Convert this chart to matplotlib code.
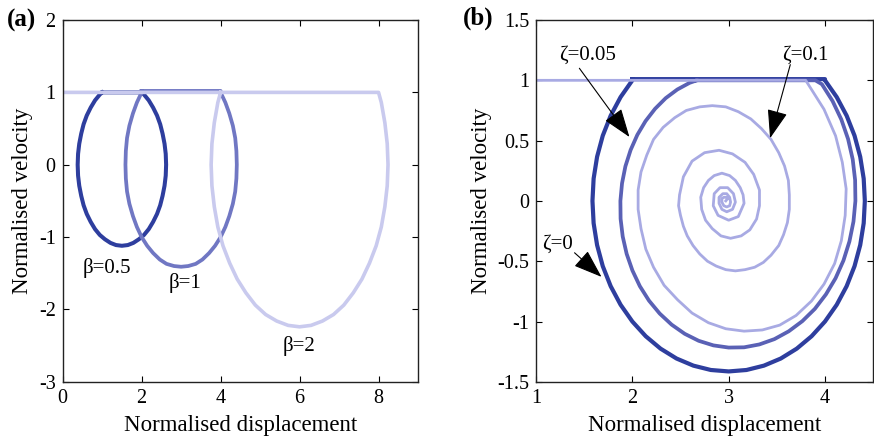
import matplotlib
matplotlib.use('Agg')
import matplotlib.pyplot as plt

plt.rcParams['font.family'] = ['Liberation Serif', 'DejaVu Serif']
plt.rcParams['axes.unicode_minus'] = False

# (a) phase portraits for different beta
beta05_x = [1.0, 2.0, 2.06, 2.18, 2.29, 2.39, 2.47, 2.53, 2.58, 2.61, 2.62, 2.61, 2.58, 2.53,
            2.47, 2.39, 2.29, 2.18, 2.06, 1.93, 1.79, 1.65, 1.5, 1.35, 1.21, 1.07, 0.94, 0.82,
            0.71, 0.61, 0.53, 0.47, 0.42, 0.39, 0.38, 0.39, 0.42, 0.47, 0.53, 0.61, 0.71, 0.82,
            0.94, 1.0]
beta05_v = [1.0, 1.0, 0.97, 0.89, 0.79, 0.68, 0.56, 0.43, 0.29, 0.15, 0.0, -0.15, -0.29, -0.43,
            -0.56, -0.68, -0.79, -0.89, -0.97, -1.03, -1.08, -1.11, -1.12, -1.11, -1.08, -1.03, -0.97, -0.89,
            -0.79, -0.68, -0.56, -0.43, -0.29, -0.15, 0.0, 0.15, 0.29, 0.43, 0.56, 0.68, 0.79, 0.89,
            0.97, 1.0]

beta1_x = [2.0, 4.0, 4.0, 4.12, 4.22, 4.31, 4.37, 4.40, 4.41, 4.40, 4.37, 4.31, 4.22, 4.12,
           4.0, 3.86, 3.71, 3.54, 3.37, 3.18, 3.0, 2.82, 2.63, 2.46, 2.29, 2.14, 2.0, 1.88,
           1.78, 1.69, 1.63, 1.60, 1.59, 1.60, 1.63, 1.69, 1.78, 1.88, 2.0, 2.0]
beta1_v = [1.02, 1.02, 1.0, 0.86, 0.71, 0.54, 0.37, 0.19, 0.0, -0.19, -0.37, -0.54, -0.71, -0.86,
           -1.0, -1.12, -1.22, -1.31, -1.37, -1.40, -1.41, -1.40, -1.37, -1.31, -1.22, -1.12, -1.0, -0.86,
           -0.71, -0.54, -0.37, -0.19, 0.0, 0.19, 0.37, 0.54, 0.71, 0.86, 1.0, 1.02]

beta2_x = [0.0, 8.0, 8.07, 8.16, 8.22, 8.24, 8.22, 8.16, 8.07, 7.94, 7.77, 7.58, 7.36, 7.12,
           6.86, 6.58, 6.29, 6.0, 5.71, 5.42, 5.14, 4.88, 4.64, 4.42, 4.23, 4.06, 3.93, 3.84,
           3.78, 3.76, 3.78, 3.84, 3.93, 4.0]
beta2_v = [1.0, 1.0, 0.86, 0.58, 0.29, 0.0, -0.29, -0.58, -0.86, -1.12, -1.36, -1.58, -1.77, -1.94,
           -2.07, -2.16, -2.22, -2.24, -2.22, -2.16, -2.07, -1.94, -1.77, -1.58, -1.36, -1.12, -0.86, -0.58,
           -0.29, 0.0, 0.29, 0.58, 0.86, 1.0]

beta_labels = ['β=0.5', 'β=1', 'β=2']
beta_label_pos = [(1.12, -1.43), (3.1, -1.63), (5.98, -2.51)]

# (b) phase portraits for different damping ratio zeta
zeta0_x = [2.0, 4.0, 4.000, 4.122, 4.225, 4.307, 4.366, 4.402, 4.414, 4.402, 4.366, 4.307, 4.225,
           4.122, 4.000, 3.861, 3.707, 3.541, 3.366, 3.185, 3.000, 2.815, 2.634, 2.459, 2.293,
           2.139, 2.000, 1.878, 1.775, 1.693, 1.634, 1.598, 1.586, 1.598, 1.634, 1.693, 1.775,
           1.878, 2.000, 2.0]
zeta0_v = [1.01, 1.01, 1.000, 0.861, 0.707, 0.541, 0.366, 0.185, 0.0, -0.185, -0.366, -0.541, -0.707,
           -0.861, -1.000, -1.122, -1.225, -1.307, -1.366, -1.402, -1.414, -1.402, -1.366, -1.307, -1.225,
           -1.122, -1.000, -0.861, -0.707, -0.541, -0.366, -0.185, 0.0, 0.185, 0.366, 0.541, 0.707,
           0.861, 1.000, 1.01]

zeta005_x = [2.67, 3.90, 3.968, 4.079, 4.170, 4.240, 4.288, 4.313, 4.316, 4.296, 4.254, 4.192,
             4.110, 4.010, 3.895, 3.765, 3.624, 3.475, 3.319, 3.160, 3.000, 2.842, 2.689, 2.544,
             2.408, 2.284, 2.173, 2.078, 2.001, 1.941, 1.900, 1.878, 1.876, 1.893, 1.928, 1.982,
             2.052, 2.137, 2.236, 2.346, 2.467, 2.594, 2.67]
zeta005_v = [1.0, 1.0, 0.968, 0.828, 0.675, 0.513, 0.345, 0.173, 0.0, -0.171, -0.336, -0.494,
             -0.641, -0.775, -0.895, -0.997, -1.081, -1.146, -1.190, -1.214, -1.216, -1.198, -1.160, -1.102,
             -1.026, -0.934, -0.827, -0.707, -0.577, -0.439, -0.295, -0.148, 0.0, 0.146, 0.287, 0.422,
             0.548, 0.662, 0.764, 0.852, 0.924, 0.979, 1.0]

zeta01_x = [1.00, 3.80, 3.99, 4.11, 4.18, 4.22, 4.21, 4.17, 4.10, 3.99, 3.86, 3.70, 3.53, 3.35,
            3.16, 2.97, 2.79, 2.62, 2.47, 2.33, 2.22, 2.14, 2.09, 2.06, 2.06, 2.09, 2.15, 2.22,
            2.32, 2.44, 2.56, 2.70, 2.83, 2.97, 3.10, 3.23, 3.34, 3.44, 3.52, 3.58, 3.62, 3.63,
            3.63, 3.61, 3.57, 3.52, 3.44, 3.36, 3.27, 3.17, 3.07, 2.97, 2.87, 2.78, 2.70, 2.63,
            2.57, 2.53, 2.50, 2.48, 2.49,
            2.53, 2.62, 2.75, 2.90, 3.04, 3.17, 3.26, 3.32, 3.32, 3.29, 3.22, 3.13, 3.02, 2.92,
            2.83, 2.76, 2.72, 2.71, 2.74, 2.79, 2.85, 2.93, 3.01, 3.07, 3.12, 3.15, 3.16, 3.10,
            3.00, 2.89, 2.84, 2.85, 2.91, 2.99, 3.05, 3.07, 3.04, 2.98, 2.93, 2.90, 2.90, 2.94,
            2.98, 3.01, 3.02, 3.01, 2.98, 2.95, 2.93, 2.93, 2.95, 2.98, 2.99, 2.97]
zeta01_v = [1.00, 1.00, 0.76, 0.54, 0.32, 0.10, -0.12, -0.33, -0.52, -0.69, -0.83, -0.95, -1.03, -1.07,
            -1.08, -1.06, -1.01, -0.93, -0.82, -0.70, -0.55, -0.40, -0.23, -0.07, 0.09, 0.24, 0.38, 0.51,
            0.61, 0.69, 0.75, 0.78, 0.79, 0.78, 0.74, 0.68, 0.60, 0.51, 0.40, 0.29, 0.17, 0.05,
            -0.07, -0.18, -0.28, -0.37, -0.45, -0.51, -0.55, -0.57, -0.58, -0.57, -0.54, -0.50, -0.44, -0.37,
            -0.29, -0.21, -0.12, -0.04, 0.05,
            0.20, 0.33, 0.40, 0.42, 0.39, 0.32, 0.22, 0.09, -0.04, -0.15, -0.24, -0.29, -0.31, -0.29,
            -0.23, -0.16, -0.07, 0.03, 0.11, 0.17, 0.21, 0.23, 0.21, 0.17, 0.11, 0.05, -0.02, -0.13,
            -0.16, -0.12, -0.04, 0.06, 0.11, 0.11, 0.06, -0.01, -0.07, -0.09, -0.07, -0.02, 0.03, 0.06,
            0.06, 0.03, -0.01, -0.04, -0.05, -0.04, -0.01, 0.02, 0.03, 0.03, 0.02, 0.0]

zeta_labels = ['ζ=0', 'ζ=0.05', 'ζ=0.1']
zeta_label_pos = [(1.22, -0.36), (1.54, 1.21), (3.80, 1.21)]
zeta_arrow_from = [(1.40, -0.43), (1.45, 1.10), (3.64, 1.13)]
zeta_arrow_to = [(1.68, -0.63), (1.97, 0.53), (3.43, 0.52)]

dark = '#2e3e9e'
mid_a = '#7077c3'
light_a = '#c9caee'
mid_b = '#5a61b5'
light_b = '#a8aae3'

fig = plt.figure(figsize=(8.74, 4.45), dpi=100)
ax1 = fig.add_axes([0.0717, 0.142, 0.4066, 0.813])
ax2 = fig.add_axes([0.6133, 0.142, 0.3857, 0.813])

ax1.plot(beta05_x, beta05_v, color=dark, lw=2.9, solid_joinstyle='round')
ax1.plot(beta1_x, beta1_v, color=mid_a, lw=2.7, solid_joinstyle='round')
ax1.plot(beta2_x, beta2_v, color=light_a, lw=2.6, solid_joinstyle='round')
for lab, pos in zip(beta_labels, beta_label_pos):
    ax1.text(pos[0], pos[1], lab, ha='center', va='center', fontsize=15)

ax2.plot(zeta0_x, zeta0_v, color=dark, lw=3.0, solid_joinstyle='round')
ax2.plot(zeta005_x, zeta005_v, color=mid_b, lw=2.7, solid_joinstyle='round')
ax2.plot(zeta01_x, zeta01_v, color=light_b, lw=2.0, solid_joinstyle='round')
for lab, pos in zip(zeta_labels, zeta_label_pos):
    ax2.text(pos[0], pos[1], lab, ha='center', va='center', fontsize=15)
for p0, p1 in zip(zeta_arrow_from, zeta_arrow_to):
    ax2.annotate('', xy=p1, xytext=p0,
                 arrowprops=dict(arrowstyle='-|>,head_length=0.9,head_width=0.32',
                                 mutation_scale=20, color='k', lw=0.8,
                                 shrinkA=0, shrinkB=0))

ax1.set_xlim(0, 9)
ax1.set_ylim(-3, 2)
ax1.set_xticks([0, 2, 4, 6, 8])
ax1.set_yticks([-3, -2, -1, 0, 1, 2])

ax2.set_xlim(1, 4.5)
ax2.set_ylim(-1.5, 1.5)
ax2.set_xticks([1, 2, 3, 4])
ax2.set_yticks([-1.5, -1, -0.5, 0, 0.5, 1, 1.5])
ax2.set_yticklabels(['-1.5', '-1', '-0.5', '0', '0.5', '1', '1.5'])

for ax in [ax1, ax2]:
    ax.tick_params(direction='in', top=True, right=True, length=4, width=0.8,
                   labelsize=14.5, pad=5)
    for sp in ax.spines.values():
        sp.set_linewidth(1.0)
        sp.set_color('#222222')
    ax.set_xlabel('Normalised displacement', fontsize=16.5, labelpad=5)
    ax.set_ylabel('Normalised velocity', fontsize=16.5, labelpad=4)

fig.text(0.008, 0.955, '(a)', fontsize=18, fontweight='bold', va='center')
fig.text(0.530, 0.958, '(b)', fontsize=18, fontweight='bold', va='center')

fig.savefig('out.png', dpi=100)
